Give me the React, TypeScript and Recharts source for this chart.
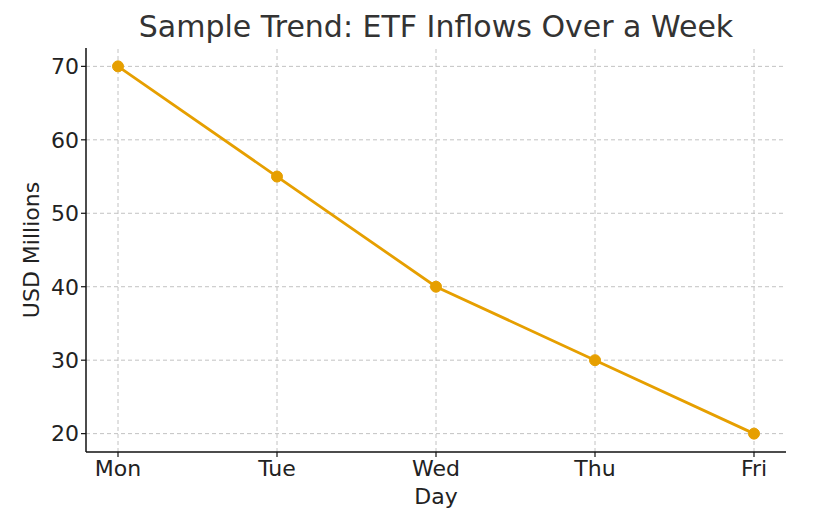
import { Line, LineChart, ReferenceLine, XAxis, YAxis } from "recharts";

const days = ["Mon", "Tue", "Wed", "Thu", "Fri"];
const inflows = [70, 55, 40, 30, 20];
const yTicks = [20, 30, 40, 50, 60, 70];

const data = days.map((day, i) => ({ day, inflow: inflows[i] }));

const font = "DejaVu Sans, sans-serif";
const tickStyle = { fontSize: 22, fill: "#222", fontFamily: font };
const gridColor = "#c2c2c2";

export default function App() {
  return (
    <div style={{ position: "absolute", left: 0, top: 0, width: 818, height: 523, background: "#fff", fontFamily: font }}>
      <LineChart
        width={818}
        height={523}
        data={data}
        margin={{ top: 48, right: 32, left: 30, bottom: 0 }}
      >
        <XAxis
          dataKey="day"
          height={71}
          padding={{ left: 32, right: 32 }}
          tick={tickStyle}
          tickSize={5}
          tickMargin={3}
          axisLine={{ stroke: "#111", strokeWidth: 1.5 }}
          tickLine={{ stroke: "#111", strokeWidth: 1.2 }}
        />
        <YAxis
          width={56}
          domain={[17.5, 72.5]}
          ticks={yTicks}
          tick={tickStyle}
          tickSize={5}
          tickMargin={2}
          axisLine={{ stroke: "#111", strokeWidth: 1.5 }}
          tickLine={{ stroke: "#111", strokeWidth: 1.2 }}
        />
        {yTicks.map((t) => (
          <ReferenceLine key={`h-${t}`} y={t} stroke={gridColor} strokeDasharray="4 3" />
        ))}
        {days.map((d) => (
          <ReferenceLine key={`v-${d}`} x={d} stroke={gridColor} strokeDasharray="4 3" />
        ))}
        <Line
          type="linear"
          dataKey="inflow"
          stroke="#e69f00"
          strokeWidth={2.8}
          dot={{ r: 5.5, fill: "#e69f00", stroke: "#e69f00", strokeWidth: 1 }}
          isAnimationActive={false}
        />
      </LineChart>
      <div
        style={{ position: "absolute", left: 86, width: 700, top: 8, textAlign: "center", fontSize: 30, color: "#333", lineHeight: "38px" }}
      >
        Sample Trend: ETF Inflows Over a Week
      </div>
      <div
        style={{ position: "absolute", left: 86, width: 700, top: 483, textAlign: "center", fontSize: 22, color: "#222", lineHeight: "28px" }}
      >
        Day
      </div>
      <div
        style={{
          position: "absolute",
          left: 32 - 100,
          top: 250 - 14,
          width: 200,
          height: 28,
          lineHeight: "28px",
          textAlign: "center",
          fontSize: 22,
          color: "#222",
          transform: "rotate(-90deg)",
        }}
      >
        USD Millions
      </div>
    </div>
  );
}
